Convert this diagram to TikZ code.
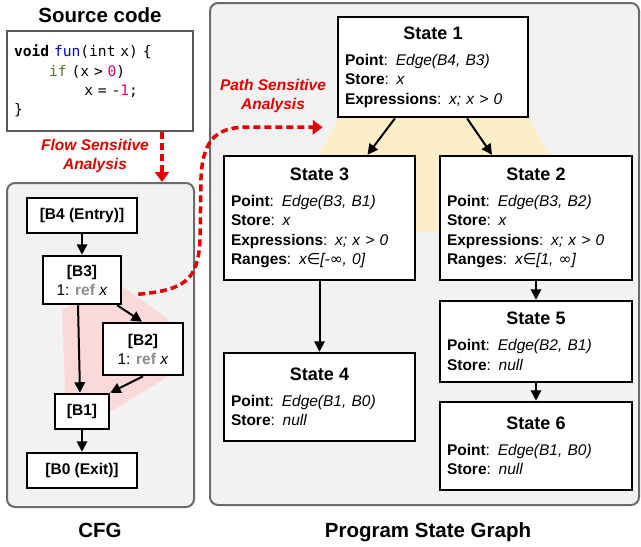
\documentclass[tikz,border=0pt]{standalone}
\usepackage{fontspec}
\setmainfont{Liberation Sans}
\setmonofont{DejaVu Sans Mono}
\newfontfamily\symfont{DejaVu Sans}
\usetikzlibrary{arrows.meta}

\definecolor{panelgray}{HTML}{F2F2F2}
\definecolor{paneledge}{HTML}{6B6B6B}
\definecolor{codeedge}{HTML}{595959}
\definecolor{codeblue}{HTML}{0000C8}
\definecolor{codegreen}{HTML}{4F7A28}
\definecolor{codepink}{HTML}{E6007E}
\definecolor{flowred}{HTML}{E00000}
\definecolor{refgray}{HTML}{8C8C8C}
\definecolor{pathpink}{HTML}{F9DAD8}
\definecolor{pathyellow}{HTML}{FCEFC7}

\newcommand\stitle[1]{\makebox[\linewidth]{\fontsize{18}{20}\selectfont\bfseries #1}\\[6.5pt]}
\newcommand\fld[2]{\textbf{#1}: \textit{#2}}
\newcommand\refx{\mdseries 1: \textcolor{refgray}{\bfseries ref} \textit{x}}

\tikzset{
  panel/.style={draw=paneledge, fill=panelgray, line width=2pt, rounded corners=8pt},
  codebox/.style={draw=codeedge, fill=white, line width=2.5pt, align=left,
    text width=172pt, minimum height=100pt, inner xsep=7pt,
    font=\ttfamily\fontsize{14.6}{19.3}\selectfont},
  block/.style={draw=black, fill=white, line width=2.5pt, align=center, inner sep=0pt,
    font=\fontsize{15.5}{19}\selectfont\bfseries},
  statebox/.style={draw=black, fill=white, line width=2.5pt, align=left,
    inner xsep=7pt, inner ysep=0pt, text width=#1-14pt,
    font=\fontsize{15.5}{19.5}\selectfont},
  flowedge/.style={line width=2pt, -{Triangle[length=10.5pt,width=10.5pt]}},
  analysis/.style={draw=flowred, line width=3.5pt, dash pattern=on 7pt off 4pt,
    -{Triangle[length=10pt,width=14pt]}},
  redlabel/.style={text=flowred, align=center,
    font=\fontsize{15.5}{19.5}\selectfont\bfseries\itshape},
  paneltitle/.style={font=\fontsize{20.5}{24}\selectfont\bfseries}
}

\begin{document}
\begin{tikzpicture}[x=1pt,y=-1pt]
  \useasboundingbox (0,0) rectangle (641,547);

  % grey panels
  \node[panel, minimum width=187pt, minimum height=324pt] (cfg) at (100.5,345) {};
  \node[panel, minimum width=429pt, minimum height=502pt] (psg) at (424.5,254) {};

  % shaded regions under the branches
  \fill[pathpink] (62,309) -- (123,287) -- (167,318) -- (167,377) -- (113,410) -- (66,414) -- cycle;
  \fill[pathyellow] (342,112) -- (526,112) -- (556,168) -- (536,232) -- (320,232) -- (312,168) -- cycle;

  % source code
  \node[paneltitle] (srctitle) at (100,15) {Source code};
  \node[codebox] (src) at (100,81) {%
    \textbf{void} \textcolor{codeblue}{fun}(int x) \{\\
    \phantom{xxxx}\textcolor{codegreen}{if} (x > \textcolor{codepink}{0})\\
    \phantom{xxxxxxxx}x = -\textcolor{codepink}{1};\\
    \}};

  % CFG
  \node[block, minimum width=110pt, minimum height=35pt] (b4) at (82,215.5) {[B4 (Entry)]};
  \node[block, minimum width=78pt, minimum height=48pt] (b3) at (82,280) {[B3]\\ \refx};
  \node[block, minimum width=80pt, minimum height=52pt] (b2) at (143,349) {[B2]\\ \refx};
  \node[block, minimum width=54pt, minimum height=35pt] (b1) at (82,411.5) {[B1]};
  \node[block, minimum width=110pt, minimum height=35pt] (b0) at (82,470.5) {[B0 (Exit)]};
  \node[paneltitle] (cfgtitle) at (100,530) {CFG};

  \draw[flowedge] (b4) -- (b3);
  \draw[flowedge] ([xshift=-4pt]b3.south) -- ([xshift=-2pt]b1.north);
  \draw[flowedge] ([xshift=-5pt]b3.south east) -- ([xshift=-1pt]b2.north);
  \draw[flowedge] (b2.south) -- (b1.north east);
  \draw[flowedge] (b1) -- (b0);

  % program states
  \node[statebox=190pt, minimum height=100pt] (s1) at (433,67) {%
    \stitle{State 1}
    \fld{Point}{Edge(B4, B3)}\\
    \fld{Store}{x}\\
    \fld{Expressions}{x; x > 0}};
  \node[statebox=191pt, minimum height=124pt] (s3) at (319.5,218) {%
    \stitle{State 3}
    \fld{Point}{Edge(B3, B1)}\\
    \fld{Store}{x}\\
    \fld{Expressions}{x; x > 0}\\
    \fld{Ranges}{x{\symfont ∈}[-{\symfont ∞}, 0]}};
  \node[statebox=192pt, minimum height=124pt] (s2) at (536,218) {%
    \stitle{State 2}
    \fld{Point}{Edge(B3, B2)}\\
    \fld{Store}{x}\\
    \fld{Expressions}{x; x > 0}\\
    \fld{Ranges}{x{\symfont ∈}[1, {\symfont ∞}]}};
  \node[statebox=191pt, minimum height=88pt] (s4) at (319.5,397) {%
    \stitle{State 4}
    \fld{Point}{Edge(B1, B0)}\\
    \fld{Store}{null}};
  \node[statebox=192pt, minimum height=81pt] (s5) at (536,341.5) {%
    \stitle{State 5}
    \fld{Point}{Edge(B2, B1)}\\
    \fld{Store}{null}};
  \node[statebox=192pt, minimum height=88pt] (s6) at (536,446) {%
    \stitle{State 6}
    \fld{Point}{Edge(B1, B0)}\\
    \fld{Store}{null}};
  \node[paneltitle] (psgtitle) at (428,532) {Program State Graph};

  \draw[flowedge] ([xshift=-38pt]s1.south) -- ([xshift=48pt]s3.north);
  \draw[flowedge] ([xshift=34pt]s1.south) -- ([xshift=-44pt]s2.north);
  \draw[flowedge] (s3) -- (s4);
  \draw[flowedge] (s2) -- (s5);
  \draw[flowedge] (s5) -- (s6);

  % analyses
  \node[redlabel] (flowlbl) at (95,156) {Flow Sensitive\\Analysis};
  \draw[analysis] ([xshift=62pt]src.south) -- ([xshift=62pt]src.south |- cfg.north);

  \node[redlabel] (pathlbl) at (273,96) {Path Sensitive\\Analysis};
  \coordinate (pathend) at ([shift={(-14pt,-9pt)}]s1.south west);
  \draw[analysis] ([shift={(16pt,11pt)}]b3.south east)
    .. controls (185,290) and (198,280) .. (200,240) -- (201,178)
    .. controls (203,135) and (220,127) .. (250,127) -- (pathend);
\end{tikzpicture}
\end{document}
